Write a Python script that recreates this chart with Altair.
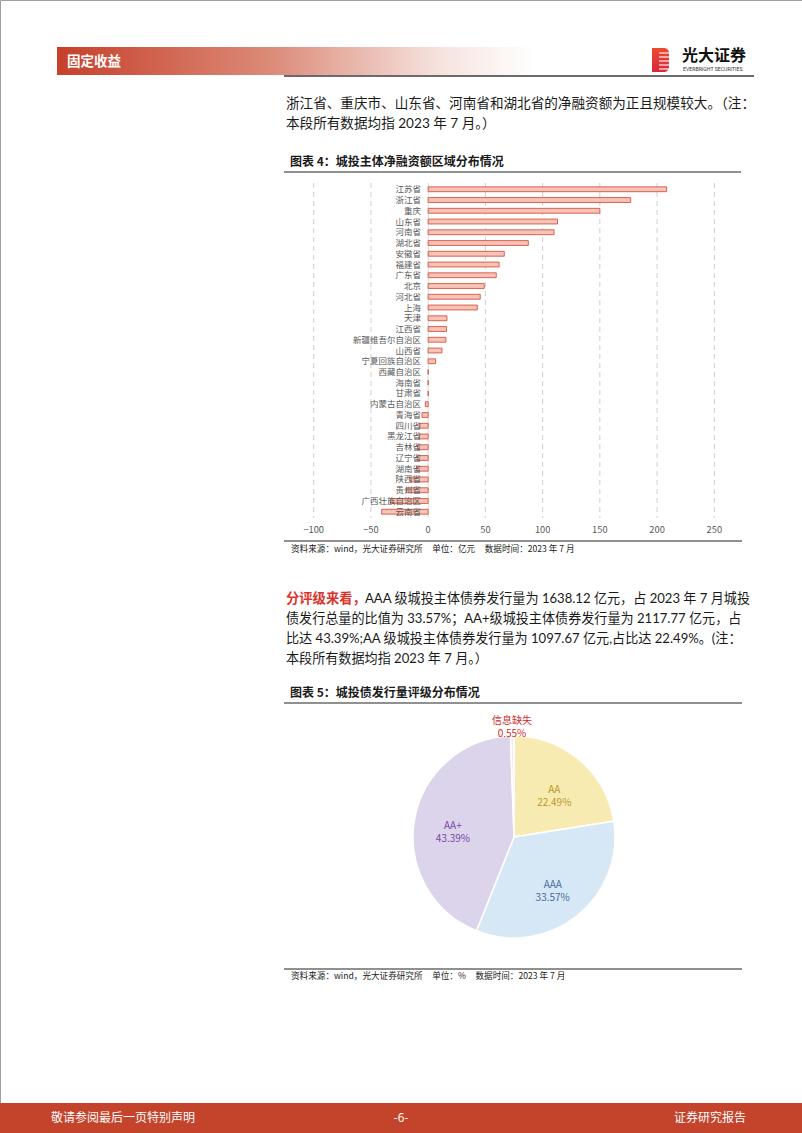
import math
import altair as alt
import pandas as pd

# ---------------- data ----------------
provinces = ["江苏省", "浙江省", "重庆", "山东省", "河南省", "湖北省", "安徽省", "福建省",
             "广东省", "北京", "河北省", "上海", "天津", "江西省", "新疆维吾尔自治区", "山西省",
             "宁夏回族自治区", "西藏自治区", "海南省", "甘肃省", "内蒙古自治区", "青海省",
             "四川省", "黑龙江省", "吉林省", "辽宁省", "湖南省", "陕西省", "贵州省",
             "广西壮族自治区", "云南省"]
net_financing = [208.4, 177.0, 150.0, 113.0, 110.0, 87.5, 66.5, 62.0, 59.5, 49.0, 45.5,
                 43.0, 16.4, 16.0, 15.5, 12.0, 6.5, 0.0, 0.0, 0.0, -2.5, -5.4, -7.4,
                 -7.8, -9.3, -9.6, -10.0, -16.0, -19.0, -33.0, -40.6]
x_ticks = [-100, -50, 0, 50, 100, 150, 200, 250]
grid_vals = [-100, -50, 50, 100, 150, 200, 250]

ratings = ["AA", "AAA", "AA+", "信息缺失"]
shares = [22.49, 33.57, 43.39, 0.55]

# ---------------- styles ----------------
CJK = "Noto Sans CJK SC"
BODY = "Lato, 'Noto Sans CJK SC'"
SP = "\u00a0" * 5
one = pd.DataFrame({"k": [0]})


def txt(s, x, y, size=13.3, color="#1a1a1a", weight="normal", align="left", font=BODY):
    return alt.Chart(one).mark_text(text=s, fontSize=size, color=color, fontWeight=weight,
                                    align=align, baseline="middle", font=font).encode(
        x=alt.value(x), y=alt.value(y))


def hline(x1, x2, y, color, width=1.0):
    return alt.Chart(one).mark_rule(color=color, strokeWidth=width).encode(
        x=alt.value(x1), x2=alt.value(x2), y=alt.value(y))


def box(x1, x2, y1, y2, color):
    return alt.Chart(one).mark_rect(color=color).encode(
        x=alt.value(x1), x2=alt.value(x2), y=alt.value(y1), y2=alt.value(y2))


layers = []

# ---------------- header ----------------
grad = alt.LinearGradient(gradient="linear", x1=0, x2=1, y1=0, y2=0,
                          stops=[alt.GradientStop(color="#c6402a", offset=0),
                                 alt.GradientStop(color="#dc8b79", offset=0.45),
                                 alt.GradientStop(color="#f6e3de", offset=0.8),
                                 alt.GradientStop(color="#ffffff", offset=1)])
layers.append(alt.Chart(one).mark_rect(color=grad).encode(
    x=alt.value(57), x2=alt.value(535), y=alt.value(47), y2=alt.value(75)))
layers.append(txt("固定收益", 67, 62, size=13.5, color="white", weight="bold", font=CJK))
# logo
logo_grad = alt.LinearGradient(gradient="linear", x1=0, x2=0, y1=0, y2=1,
                               stops=[alt.GradientStop(color="#ee4a2e", offset=0),
                                      alt.GradientStop(color="#d8263c", offset=1)])
layers.append(alt.Chart(one).mark_rect(color=logo_grad, cornerRadiusTopRight=5,
                                       cornerRadiusBottomRight=5).encode(
    x=alt.value(652), x2=alt.value(669), y=alt.value(48), y2=alt.value(72)))
for yy in [53, 57, 61, 65, 69]:
    layers.append(alt.Chart(one).mark_rule(color="white", strokeWidth=1.1).encode(
        x=alt.value(659), x2=alt.value(669.5), y=alt.value(yy)))
layers.append(txt("光大证券", 682, 56, size=16, color="#111111", weight="bold", font=CJK))
layers.append(txt("EVERBRIGHT SECURITIES", 683, 68.5, size=5.2, color="#333333", font="Roboto"))
layers.append(hline(284, 754, 76, "#3a3a3a", 1.6))

# ---------------- paragraph 1 ----------------
layers.append(txt("浙江省、重庆市、山东省、河南省和湖北省的净融资额为正且规模较大。（注：", 286, 104, size=13.6))
layers.append(txt("本段所有数据均指 2023 年 7 月。）", 286, 124, size=13.6))

# ---------------- figure 4 ----------------
layers.append(txt("图表 4：城投主体净融资额区域分布情况", 290, 162, size=12, weight="bold", font=CJK))
layers.append(hline(284, 741, 172, "#222222", 1.2))

xs = alt.Scale(domain=[-100, 250], range=[313.7, 714.3], nice=False, zero=False)
ys = alt.Scale(domain=provinces, range=[183.9, 517.1], paddingInner=0.55, paddingOuter=0.275)

bar_df = pd.DataFrame({"province": provinces, "value": net_financing})
grid_df = pd.DataFrame({"v": grid_vals})
tick_df = pd.DataFrame({"v": x_ticks})

layers.append(alt.Chart(grid_df).mark_rule(color="#cfcfcf", strokeWidth=1, strokeDash=[5, 4]).encode(
    x=alt.X("v:Q", scale=xs, axis=None), y=alt.value(183), y2=alt.value(518)))
layers.append(alt.Chart(pd.DataFrame({"v": [0]})).mark_rule(color="#d9d9d9", strokeWidth=1).encode(
    x=alt.X("v:Q", scale=xs, axis=None), y=alt.value(183), y2=alt.value(518)))
layers.append(alt.Chart(bar_df).mark_bar(fill="#f6c3b8", stroke="#d9543f", strokeWidth=0.9).encode(
    x=alt.X("value:Q", scale=xs, axis=None),
    x2=alt.datum(0),
    y=alt.Y("province:N", scale=ys, axis=None, sort=provinces)))
layers.append(alt.Chart(bar_df).mark_text(align="right", baseline="middle", fontSize=8.5,
                                          color="#595959", font=CJK).encode(
    y=alt.Y("province:N", scale=ys, axis=None, sort=provinces),
    x=alt.value(421), text="province:N"))
layers.append(alt.Chart(tick_df).mark_text(baseline="middle", fontSize=9.3, color="#595959",
                                           font=CJK).encode(
    x=alt.X("v:Q", scale=xs, axis=None), y=alt.value(530), text="v:Q"))

layers.append(hline(284, 742, 541, "#222222", 1.2))
layers.append(txt("资料来源：wind，光大证券研究所" + SP + "单位：亿元" + SP + "数据时间：2023 年 7 月",
                  291, 549, size=8.6, color="#222222", font=CJK))

# ---------------- paragraph 2 ----------------
layers.append(txt("分评级来看，", 286, 599, color="#d9342b", weight="bold", font=CJK))
layers.append(txt("AAA 级城投主体债券发行量为 1638.12 亿元，占 2023 年 7 月城投", 365, 599, size=13.1))
layers.append(txt("债发行总量的比值为 33.57%；AA+级城投主体债券发行量为 2117.77 亿元，占", 286, 619, size=13.1))
layers.append(txt("比达 43.39%;AA 级城投主体债券发行量为 1097.67 亿元,占比达 22.49%。(注：", 286, 639, size=13.1))
layers.append(txt("本段所有数据均指 2023 年 7 月。）", 286, 659, size=13.1))

# ---------------- figure 5 ----------------
layers.append(txt("图表 5：城投债发行量评级分布情况", 290, 693, size=12, weight="bold", font=CJK))
layers.append(hline(284, 742, 703, "#222222", 1.2))

pie_df = pd.DataFrame({"rating": ratings, "share": shares, "idx": list(range(len(ratings)))})
theta = alt.Theta("share:Q", stack=True,
                  scale=alt.Scale(domain=[0, 100], range=[0, 2 * math.pi]))
pie_fill = ["#f8ebb2", "#d6e7f5", "#dcd4ea", "#eeeeee"]
pie_text = ["#b8972a", "#4a6c9e", "#7d45a8", "#d12a2a"]
CX, CY = 514, 837

layers.append(alt.Chart(pie_df).mark_arc(radius=101, stroke="white", strokeWidth=1.5).encode(
    theta=theta,
    color=alt.Color("rating:N", scale=alt.Scale(domain=ratings, range=pie_fill), legend=None),
    order=alt.Order("idx:Q"),
    x=alt.value(CX), y=alt.value(CY)))

lbl = pie_df.copy()
layers.append(alt.Chart(lbl).transform_calculate(
    t="datum.rating != '信息缺失' ? datum.rating + '\\n' + format(datum.share, '.2f') + '%' : ''"
).mark_text(radius=62, lineBreak="\n", fontSize=10, font=CJK, lineHeight=13).encode(
    theta=theta, order=alt.Order("idx:Q"), text="t:N",
    color=alt.Color("rating:N", scale=alt.Scale(domain=ratings, range=pie_text), legend=None),
    x=alt.value(CX), y=alt.value(CY)))
layers.append(alt.Chart(lbl).transform_calculate(
    t="datum.rating == '信息缺失' ? datum.rating + '\\n' + format(datum.share, '.2f') + '%' : ''"
).mark_text(radius=116, lineBreak="\n", fontSize=10, font=CJK, lineHeight=13).encode(
    theta=theta, order=alt.Order("idx:Q"), text="t:N",
    color=alt.Color("rating:N", scale=alt.Scale(domain=ratings, range=pie_text), legend=None),
    x=alt.value(CX), y=alt.value(CY)))

layers.append(hline(284, 742, 969, "#222222", 1.2))
layers.append(txt("资料来源：wind，光大证券研究所" + SP + "单位：%" + SP + "数据时间：2023 年 7 月",
                  291, 976, size=8.6, color="#222222", font=CJK))

# ---------------- footer ----------------
layers.append(box(0, 802, 1103, 1133, "#c4432b"))
layers.append(txt("敬请参阅最后一页特别声明", 51, 1118, size=12, color="white", font=CJK))
layers.append(txt("-6-", 401, 1118, size=12, color="white", align="center", font=CJK))
layers.append(txt("证券研究报告", 746, 1118, size=12, color="white", align="right", font=CJK))

chart = alt.layer(*layers).resolve_scale(
    x="independent", y="independent", color="independent", theta="independent"
).properties(
    width=802, height=1133, padding=0, autosize=alt.AutoSizeParams(type="none")
).configure_view(stroke="#a0a0a0", strokeWidth=1)

chart.save("out.html", embed_options={"renderer": "svg", "actions": False})
